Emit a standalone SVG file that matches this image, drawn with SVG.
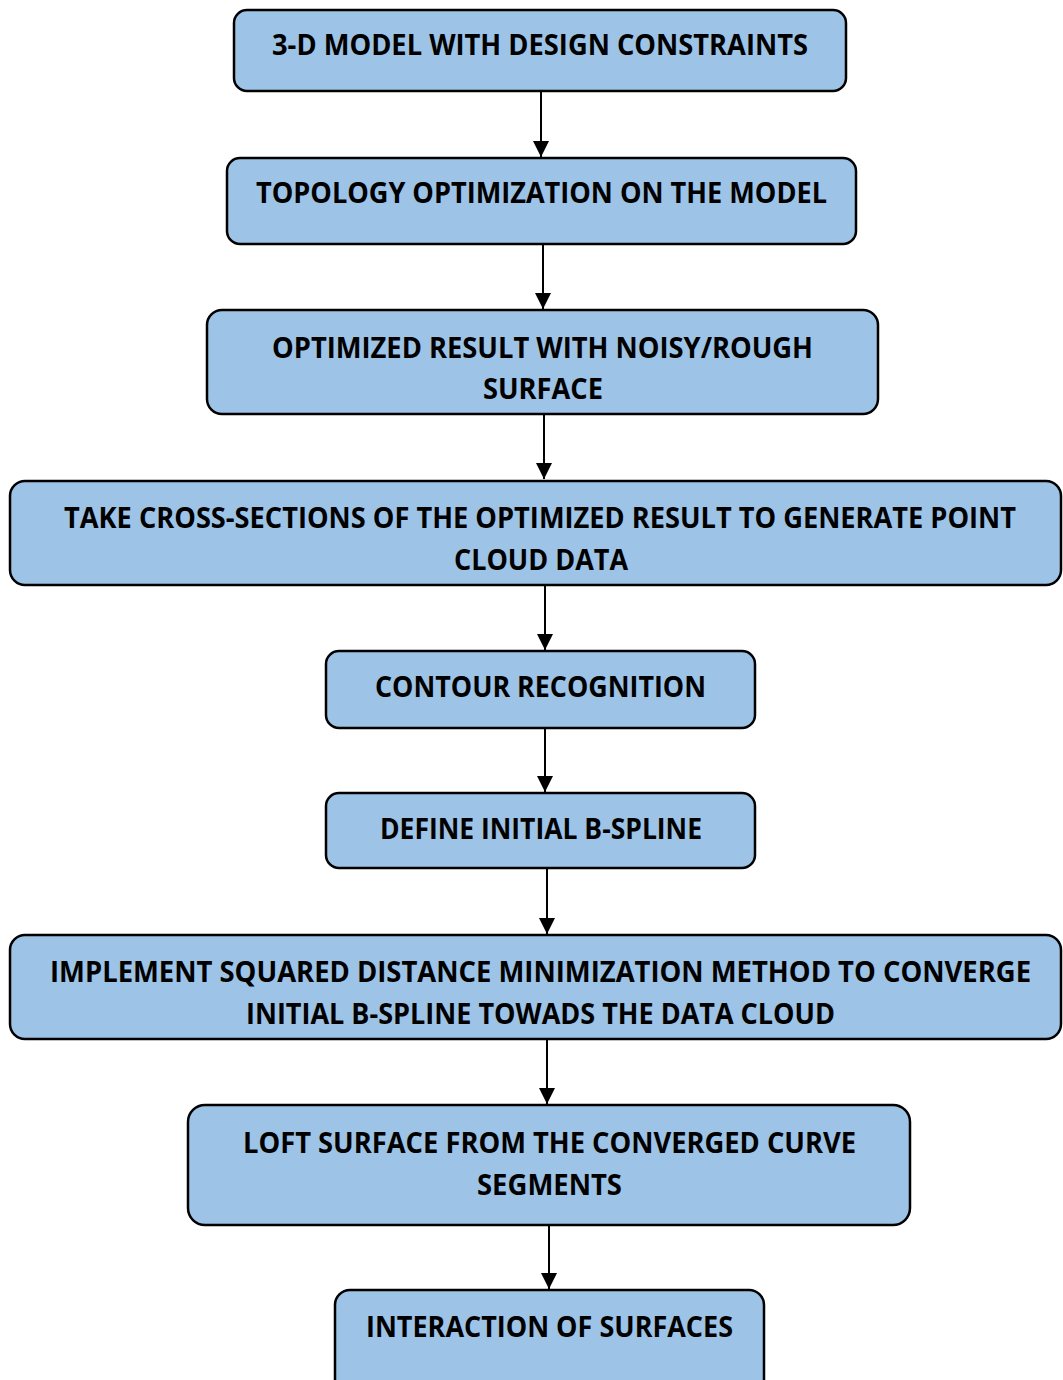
<svg xmlns="http://www.w3.org/2000/svg" width="1063" height="1380" viewBox="0 0 1063 1380">
<defs>
<style>
.box{fill:#9DC3E6;stroke:#000;stroke-width:2.5}
.t{font-family:"Open Sans","Noto Sans","Liberation Sans",sans-serif;font-weight:bold;font-size:28px;fill:#000;text-anchor:middle}
.c{stroke:#000;stroke-width:2;fill:none;marker-end:url(#ah)}
</style>
<marker id="ah" markerUnits="userSpaceOnUse" markerWidth="16" markerHeight="16" viewBox="0 0 16 16" refX="16" refY="8" orient="auto">
<path d="M0,0 L16,8 L0,16 Z" fill="#000"/>
</marker>
</defs>
<rect width="1063" height="1380" fill="#fff"/>
<g id="connectors">
<line class="c" x1="541" y1="92" x2="541" y2="157"/>
<line class="c" x1="543" y1="245" x2="543" y2="309"/>
<line class="c" x1="544" y1="415" x2="544" y2="479"/>
<line class="c" x1="545" y1="586" x2="545" y2="650"/>
<line class="c" x1="545" y1="729" x2="545" y2="792"/>
<line class="c" x1="547" y1="869" x2="547" y2="934"/>
<line class="c" x1="547" y1="1040" x2="547" y2="1104"/>
<line class="c" x1="549" y1="1226" x2="549" y2="1289"/>
</g>
<g id="n1">
<rect class="box" x="234" y="10" width="612" height="81" rx="13"/>
<text class="t" x="540" y="55" textLength="536" lengthAdjust="spacingAndGlyphs">3-D MODEL WITH DESIGN CONSTRAINTS</text>
</g>
<g id="n2">
<rect class="box" x="227" y="158" width="629" height="86" rx="13"/>
<text class="t" x="541.5" y="203" textLength="571" lengthAdjust="spacingAndGlyphs">TOPOLOGY OPTIMIZATION ON THE MODEL</text>
</g>
<g id="n3">
<rect class="box" x="207" y="310" width="671" height="104" rx="15"/>
<text class="t" x="542.5" y="358" textLength="541" lengthAdjust="spacingAndGlyphs">OPTIMIZED RESULT WITH NOISY/ROUGH</text>
<text class="t" x="543" y="399" textLength="120" lengthAdjust="spacingAndGlyphs">SURFACE</text>
</g>
<g id="n4">
<rect class="box" x="10" y="481" width="1051" height="104" rx="15"/>
<text class="t" x="540" y="528" textLength="952" lengthAdjust="spacingAndGlyphs">TAKE CROSS-SECTIONS OF THE OPTIMIZED RESULT TO GENERATE POINT</text>
<text class="t" x="541" y="570" textLength="174" lengthAdjust="spacingAndGlyphs">CLOUD DATA</text>
</g>
<g id="n5">
<rect class="box" x="326" y="651" width="429" height="77" rx="13"/>
<text class="t" x="540.5" y="697" textLength="331" lengthAdjust="spacingAndGlyphs">CONTOUR RECOGNITION</text>
</g>
<g id="n6">
<rect class="box" x="326" y="793" width="429" height="75" rx="13"/>
<text class="t" x="541" y="839" textLength="322" lengthAdjust="spacingAndGlyphs">DEFINE INITIAL B-SPLINE</text>
</g>
<g id="n7">
<rect class="box" x="10" y="935" width="1051" height="104" rx="15"/>
<text class="t" x="540.5" y="982" textLength="981" lengthAdjust="spacingAndGlyphs">IMPLEMENT SQUARED DISTANCE MINIMIZATION METHOD TO CONVERGE</text>
<text class="t" x="540.5" y="1024" textLength="589" lengthAdjust="spacingAndGlyphs">INITIAL B-SPLINE TOWADS THE DATA CLOUD</text>
</g>
<g id="n8">
<rect class="box" x="188" y="1105" width="722" height="120" rx="17"/>
<text class="t" x="549.5" y="1153" textLength="613" lengthAdjust="spacingAndGlyphs">LOFT SURFACE FROM THE CONVERGED CURVE</text>
<text class="t" x="549.5" y="1195" textLength="145" lengthAdjust="spacingAndGlyphs">SEGMENTS</text>
</g>
<g id="n9">
<rect class="box" x="335" y="1290" width="429" height="130" rx="15"/>
<text class="t" x="549.5" y="1337" textLength="367" lengthAdjust="spacingAndGlyphs">INTERACTION OF SURFACES</text>
</g>
</svg>
